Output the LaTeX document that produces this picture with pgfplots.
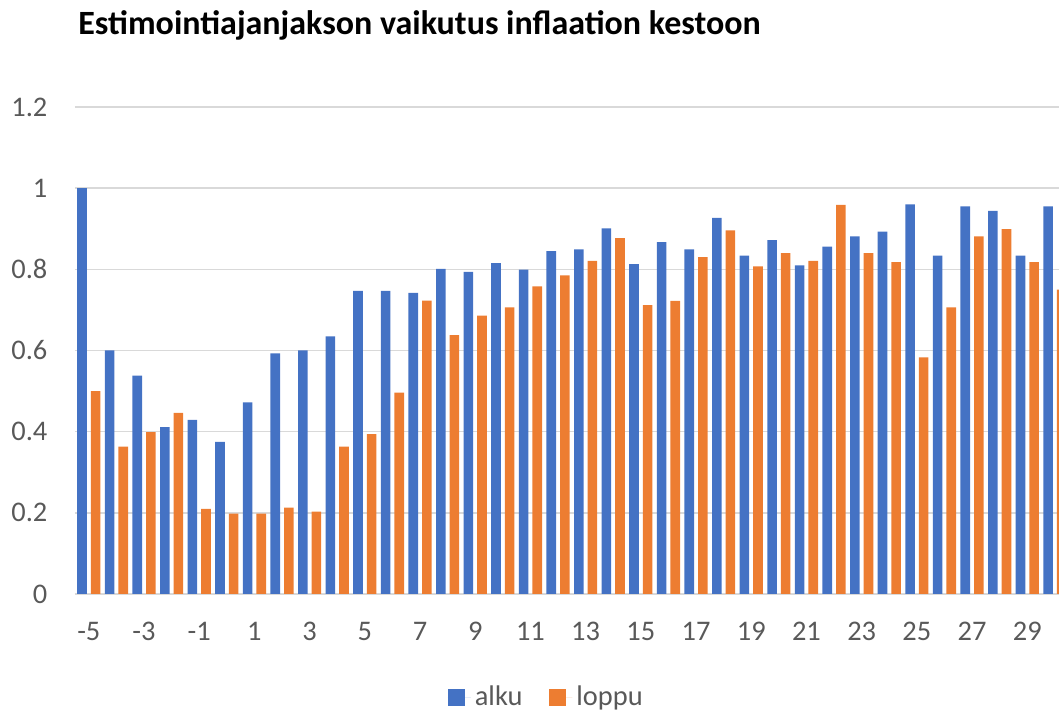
\documentclass[border=0pt]{standalone}
\usepackage{pgfplots}
\pgfplotsset{compat=1.18}
\usepackage{pgfplotstable}
\usepackage{fontspec}
\setmainfont{Carlito}
\definecolor{cblue}{HTML}{4472C4}
\definecolor{corange}{HTML}{ED7D31}
\definecolor{cgrid}{HTML}{D9D9D9}
\definecolor{ctext}{HTML}{595959}

\pgfplotstableread{
x alku loppu
-5 1.000 0.500
-4 0.600 0.363
-3 0.538 0.399
-2 0.411 0.446
-1 0.429 0.210
0 0.375 0.198
1 0.472 0.198
2 0.593 0.213
3 0.600 0.203
4 0.635 0.363
5 0.747 0.394
6 0.747 0.496
7 0.742 0.723
8 0.801 0.638
9 0.794 0.686
10 0.815 0.706
11 0.799 0.758
12 0.845 0.785
13 0.849 0.821
14 0.901 0.877
15 0.813 0.712
16 0.867 0.722
17 0.849 0.830
18 0.927 0.896
19 0.834 0.807
20 0.872 0.840
21 0.810 0.821
22 0.856 0.959
23 0.881 0.840
24 0.893 0.818
25 0.960 0.583
26 0.834 0.706
27 0.955 0.881
28 0.944 0.899
29 0.834 0.818
30 0.955 0.750
}\datatable

\begin{document}
\begin{tikzpicture}
\begin{axis}[
  name=ax,
  scale only axis,
  width=492pt, height=243.5pt,
  xmin=-5.5, xmax=30.15,
  ymin=0, ymax=1.2,
  ybar=2pt,
  bar width=4.8pt,
  xtick={-5,-3,...,29},
  xticklabels={-5,-3,-1,1,3,5,7,9,11,13,15,17,19,21,23,25,27,29},
  ytick={0,0.2,0.4,0.6,0.8,1,1.2},
  yticklabels={0,0.2,0.4,0.6,0.8,1,1.2},
  major tick length=0pt,
  ymajorgrids,
  grid style={cgrid, line width=0.8pt},
  axis x line*=bottom,
  axis y line*=left,
  x axis line style={cgrid, line width=0.8pt},
  y axis line style={draw=none},
  tick label style={font=\fontsize{14.2}{17}\selectfont, text=ctext},
  xticklabel style={yshift=-10.5pt},
  yticklabel style={xshift=-10.3pt},
  legend style={at={(0.48,-0.2125)}, anchor=center, draw=none, legend columns=2,
    font=\fontsize{14.2}{17}\selectfont, text=ctext,
    /tikz/every even column/.append style={column sep=11.5pt}},
  legend image code/.code={\path[#1] (0pt,-4.25pt) rectangle (8.5pt,4.25pt); \path (0pt,0pt) -- (11.5pt,0pt);},
]
\addplot[fill=cblue, draw=none] table[x=x, y=alku] {\datatable};
\addplot[fill=corange, draw=none] table[x=x, y=loppu] {\datatable};
\legend{alku, loppu}
\end{axis}
\node[anchor=base west, font=\fontsize{17}{20}\selectfont\bfseries, inner sep=0pt]
  at ([xshift=1.5pt, yshift=36pt]ax.north west) {Estimointiajanjakson vaikutus inflaation kestoon};
\pgfresetboundingbox
\path[use as bounding box] ([xshift=-37.5pt, yshift=-58.5pt]ax.south west) rectangle ([yshift=53.5pt]ax.north east);
\end{tikzpicture}
\end{document}
